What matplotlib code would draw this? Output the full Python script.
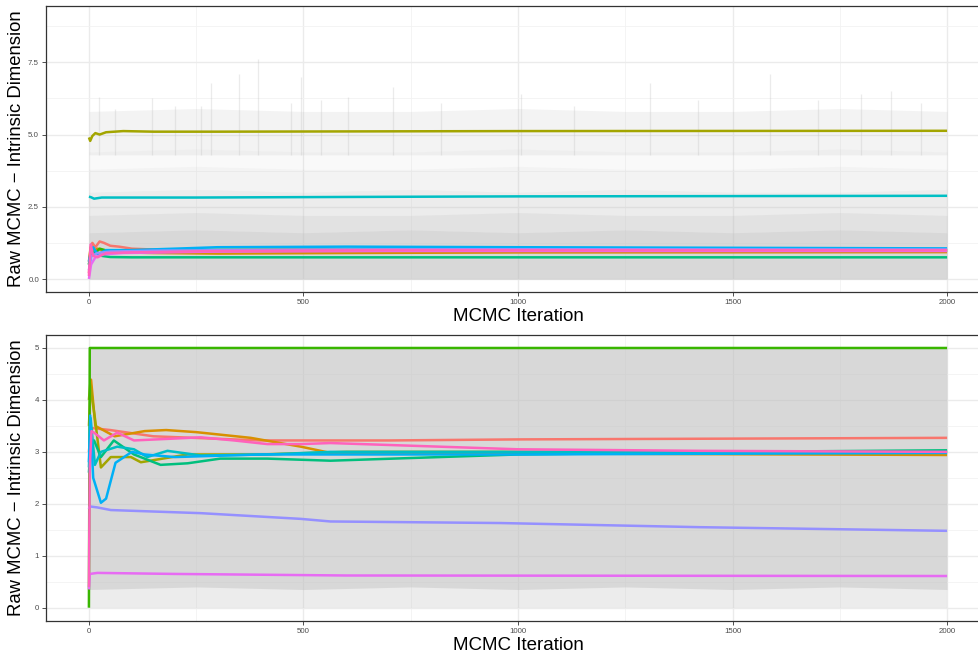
import matplotlib
matplotlib.use("Agg")
import matplotlib.pyplot as plt

plt.rcParams['font.family'] = ['Liberation Sans', 'DejaVu Sans']

# ---------------- data ----------------
palette = ['#F8766D', '#D89000', '#A3A500', '#39B600', '#00BF7D',
           '#00BFC4', '#00B0F6', '#9590FF', '#E76BF3', '#FF62BC']

x_ticks = [0, 500, 1000, 1500, 2000]
top_y_ticks = [0.0, 2.5, 5.0, 7.5]
bot_y_ticks = [0, 1, 2, 3, 4, 5]

# running means, top panel (x knots, y values) per chain
top_x = [
    [0, 3, 8, 15, 25, 35, 50, 70, 100, 150, 300, 600, 1000, 2000],
    [0, 4, 10, 20, 40, 80, 150, 300, 600, 1000, 2000],
    [0, 3, 8, 15, 25, 40, 80, 150, 300, 1000, 2000],
    [0, 5, 12, 25, 50, 100, 200, 500, 1000, 2000],
    [0, 5, 15, 30, 50, 100, 2000],
    [0, 5, 12, 30, 100, 250, 600, 1000, 2000],
    [0, 4, 10, 20, 40, 100, 300, 600, 1000, 1500, 2000],
    [0, 6, 20, 50, 150, 500, 1000, 2000],
    [0, 5, 15, 30, 80, 300, 700, 2000],
    [0, 4, 10, 20, 40, 100, 300, 700, 1000, 2000],
]
top_y = [
    [0.2, 0.9, 1.25, 1.1, 1.3, 1.25, 1.15, 1.12, 1.05, 1.02, 0.97, 1.0, 1.0, 0.99],
    [0.6, 1.1, 0.95, 1.05, 0.95, 0.92, 0.9, 0.88, 0.9, 0.92, 0.93],
    [4.9, 4.78, 4.95, 5.05, 5.0, 5.08, 5.12, 5.1, 5.1, 5.12, 5.13],
    [0.5, 1.0, 0.85, 1.05, 0.95, 1.0, 1.0, 1.02, 1.0, 0.98],
    [0.5, 0.9, 0.95, 0.8, 0.76, 0.75, 0.75],
    [2.85, 2.83, 2.78, 2.82, 2.82, 2.82, 2.84, 2.86, 2.88],
    [0.6, 0.9, 1.1, 0.85, 1.0, 1.0, 1.1, 1.12, 1.1, 1.08, 1.06],
    [0.3, 0.8, 0.9, 0.95, 0.98, 1.02, 1.03, 1.02],
    [0.0, 0.5, 0.75, 0.85, 0.9, 0.95, 0.97, 0.97],
    [0.1, 1.2, 0.8, 0.75, 0.9, 0.92, 0.97, 1.0, 1.0, 1.0],
]

# running means, bottom panel
bot_x = [
    [0, 5, 50, 150, 400, 700, 1000, 2000],
    [0, 5, 15, 60, 130, 180, 250, 377, 494, 563, 1000, 2000],
    [0, 3, 14, 28, 51, 98, 121, 230, 400, 600, 2000],
    [0, 2, 2000],
    [0, 5, 12, 28, 58, 105, 167, 230, 306, 416, 563, 1000, 1500, 2000],
    [0, 4, 14, 28, 66, 105, 136, 183, 261, 416, 563, 1000, 2000],
    [0, 3, 10, 28, 40, 62, 100, 130, 200, 400, 1000, 2000],
    [0, 2, 20, 51, 261, 494, 563, 959, 1425, 2000],
    [0, 2, 20, 200, 600, 2000],
    [0, 2, 6, 12, 35, 66, 105, 183, 261, 338, 416, 494, 563, 1000, 1425, 2000],
]
bot_y = [
    [3.0, 3.46, 3.42, 3.3, 3.22, 3.22, 3.24, 3.27],
    [3.5, 4.39, 3.5, 3.3, 3.4, 3.42, 3.38, 3.27, 3.1, 2.98, 2.97, 2.94],
    [4.0, 4.3, 3.65, 2.7, 2.9, 2.9, 2.8, 2.95, 2.95, 3.0, 3.0],
    [0.0, 5.0, 5.0],
    [2.6, 3.2, 3.22, 2.9, 3.22, 2.95, 2.75, 2.78, 2.87, 2.87, 2.83, 2.95, 3.0, 3.03],
    [2.7, 3.65, 2.75, 3.0, 3.1, 3.05, 2.9, 3.02, 2.93, 2.95, 3.0, 3.0, 3.0],
    [2.8, 3.7, 2.5, 2.02, 2.1, 2.79, 3.0, 2.95, 2.9, 2.95, 2.95, 2.98],
    [1.9, 1.95, 1.93, 1.88, 1.82, 1.71, 1.66, 1.63, 1.55, 1.48],
    [0.35, 0.65, 0.67, 0.65, 0.62, 0.61],
    [0.4, 2.7, 3.4, 3.37, 3.22, 3.37, 3.22, 3.25, 3.28, 3.22, 3.15, 3.15, 3.17, 3.05, 3.02, 3.0],
]

# raw-trace density envelopes
raw_x = [0, 250, 500, 750, 1000, 1250, 1500, 1750, 2000]
top_dense_hi = [1.6, 1.7, 1.6, 1.7, 1.6, 1.7, 1.6, 1.7, 1.6]
top_core_hi = [2.2, 2.3, 2.2, 2.2, 2.3, 2.2, 2.2, 2.3, 2.2]
top_mid_hi = [3.0, 3.1, 3.0, 3.1, 3.0, 3.1, 3.0, 3.0, 3.1]
top_outer_hi = [3.8, 3.9, 3.8, 3.8, 3.9, 3.8, 3.8, 3.9, 3.8]
top_far_hi = [4.4, 4.5, 4.4, 4.4, 4.5, 4.4, 4.4, 4.5, 4.4]
top_band_lo = [4.3, 4.3, 4.3, 4.3, 4.3, 4.3, 4.3, 4.3, 4.3]
top_band_hi = [5.8, 5.9, 5.8, 5.8, 5.9, 5.8, 5.8, 5.9, 5.8]
top_spike_x = [23, 60, 147, 200, 261, 284, 350, 393, 470, 494, 540, 603,
               708, 820, 1006, 1130, 1308, 1420, 1588, 1700, 1800, 1870, 1940]
top_spike_y = [6.3, 5.9, 6.25, 6.0, 6.0, 6.8, 7.1, 7.6, 6.1, 7.0, 6.2, 6.3,
               6.65, 6.1, 6.4, 6.0, 6.8, 6.2, 7.1, 6.2, 6.4, 6.5, 6.1]
bot_low_lo = [0.0, 0.0, 0.0, 0.0, 0.0, 0.0, 0.0, 0.0, 0.0]
bot_core_lo = [0.35, 0.4, 0.35, 0.4, 0.35, 0.4, 0.35, 0.4, 0.35]
bot_hi = [5.0, 5.0, 5.0, 5.0, 5.0, 5.0, 5.0, 5.0, 5.0]

# ---------------- figure ----------------
W, H = 979, 653
fig = plt.figure(figsize=(W / 100, H / 100), dpi=100)

def px_axes(l, t, r, b):
    return fig.add_axes([l / W, 1 - b / H, (r - l) / W, (b - t) / H])

ax1 = px_axes(46, 6, 990, 292)
ax2 = px_axes(46, 335, 990, 621)

gray = '#BEBEBE'

def style(ax, ylim, yticks, ymin, fmt):
    ax.set_xlim(-100, 2100)
    ax.set_ylim(*ylim)
    ax.set_xticks(x_ticks)
    ax.set_xticklabels([str(v) for v in x_ticks])
    ax.set_yticks(yticks)
    ax.set_yticklabels([fmt(v) for v in yticks])
    ax.set_xticks([250, 750, 1250, 1750], minor=True)
    ax.set_yticks(ymin, minor=True)
    ax.grid(True, which='major', color='#EBEBEB', lw=1.0, zorder=0)
    ax.grid(True, which='minor', color='#F2F2F2', lw=0.6, zorder=0)
    ax.tick_params(which='major', length=3, width=0.6, color='#333333',
                   labelsize=5.7, labelcolor='#4D4D4D', pad=2)
    ax.tick_params(which='minor', length=0)
    for s in ['left', 'bottom', 'top']:
        ax.spines[s].set_color('#333333')
        ax.spines[s].set_linewidth(0.9)
    ax.spines['right'].set_visible(False)
    ax.set_axisbelow(True)

style(ax1, (-0.45, 9.45), top_y_ticks, [1.25, 3.75, 6.25, 8.75],
      lambda v: f'{v:.1f}')
style(ax2, (-0.256, 5.25), bot_y_ticks, [0.5, 1.5, 2.5, 3.5, 4.5],
      lambda v: f'{v:d}')

# top raw traces
for hi, a in ((top_dense_hi, 0.25), (top_core_hi, 0.2), (top_mid_hi, 0.13),
              (top_outer_hi, 0.1), (top_far_hi, 0.08)):
    ax1.fill_between(raw_x, 0, hi, color=gray, alpha=a, lw=0, zorder=1)
ax1.fill_between(raw_x, top_band_lo, top_band_hi, color=gray, alpha=0.18, lw=0, zorder=1)
ax1.vlines(top_spike_x, 4.3, top_spike_y, color=gray, alpha=0.3, lw=0.9, zorder=1)

# bottom raw traces
ax2.fill_between(raw_x, bot_low_lo, bot_hi, color=gray, alpha=0.28, lw=0, zorder=1)
ax2.fill_between(raw_x, bot_core_lo, bot_hi, color=gray, alpha=0.42, lw=0, zorder=1)

for i, c in enumerate(palette):
    ax1.plot(top_x[i], top_y[i], color=c, lw=1.8, zorder=3, solid_capstyle='butt')
    ax2.plot(bot_x[i], bot_y[i], color=c, lw=1.8, zorder=3, solid_capstyle='butt')

fig.text(518 / W, 1 - 321 / H, 'MCMC Iteration', ha='center', va='baseline',
         fontsize=13.5, color='black')
fig.text(518 / W, 1 - 650 / H, 'MCMC Iteration', ha='center', va='baseline',
         fontsize=13.5, color='black')
fig.text(17 / W, 1 - 149 / H, 'Raw MCMC \u2212 Intrinsic Dimension', rotation=90,
         ha='center', va='center', fontsize=13.3, color='black')
fig.text(17 / W, 1 - 478 / H, 'Raw MCMC \u2212 Intrinsic Dimension', rotation=90,
         ha='center', va='center', fontsize=13.3, color='black')

fig.savefig('out.png', dpi=100)
